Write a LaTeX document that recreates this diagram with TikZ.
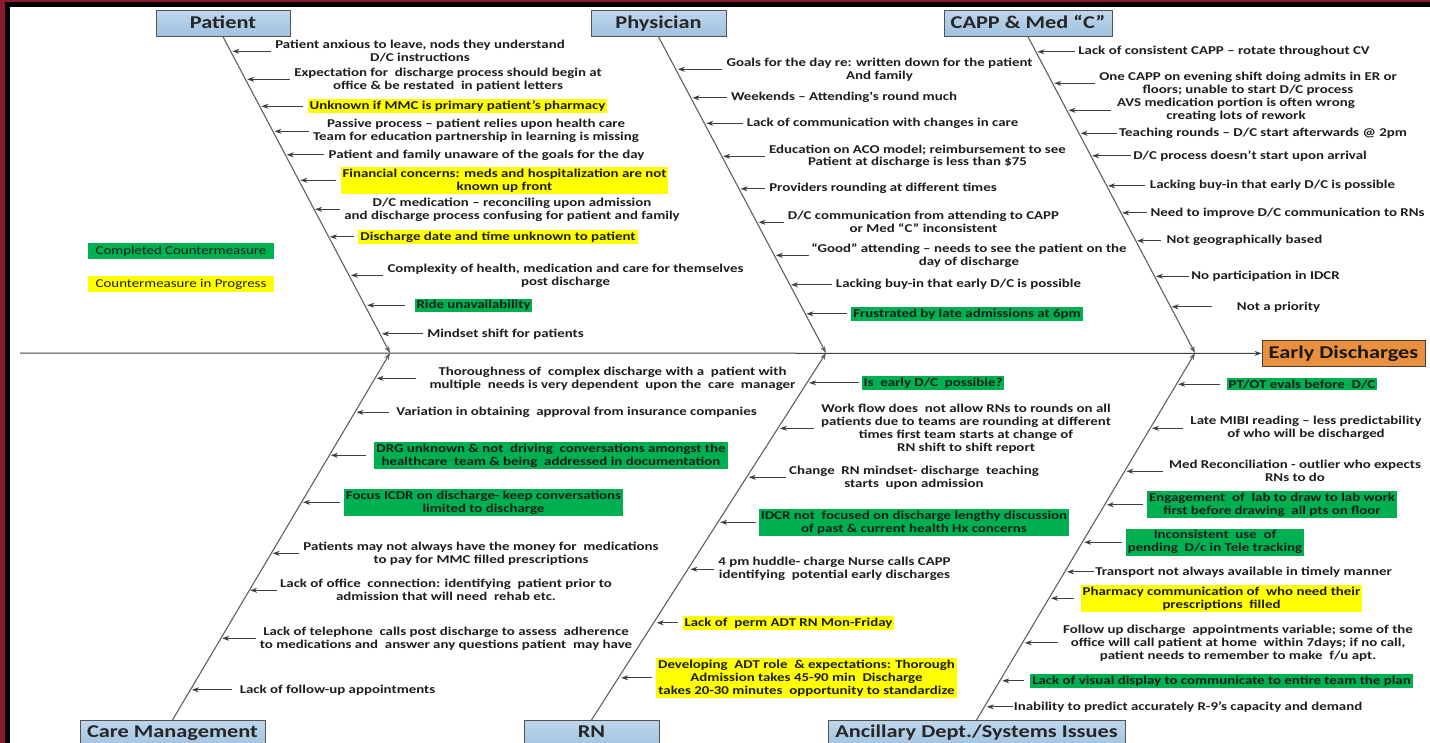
\documentclass[tikz,border=0pt]{standalone}
\usepackage{fontspec}
\newfontfamily\cf[FakeStretch=1.24]{Carlito}
\usetikzlibrary{arrows.meta}
\definecolor{txt}{RGB}{30,30,30}
\definecolor{hlgreen}{RGB}{0,176,80}
\definecolor{hlyellow}{RGB}{255,255,0}
\definecolor{tfa}{RGB}{190,214,236}
\definecolor{tfb}{RGB}{160,193,223}
\definecolor{orangebox}{RGB}{234,143,62}
\definecolor{linec}{RGB}{64,64,64}
\definecolor{bonec}{RGB}{96,96,96}
\definecolor{maroon}{RGB}{140,26,46}
\newcommand\citem[7][4]{%
  \node[#3] (#2) at (#4,#5) {#7};
  \coordinate (#2b) at (#6,#5);
  \draw[ca, shorten <=#1pt] (#2.west) -- (#2.west -| #2b);}
\begin{document}
\begin{tikzpicture}[x=1pt,y=-1pt,
  cz/.style={font=\cf\bfseries\fontsize{12}{13}\selectfont, text=txt, align=center, inner sep=0pt, yshift=-0.8pt},
  gz/.style={cz, fill=hlgreen, inner xsep=2pt, inner ysep=1.6pt},
  yz/.style={cz, fill=hlyellow, inner xsep=2pt, inner ysep=1.6pt},
  lg/.style={font=\cf\fontsize{12}{13}\selectfont, text=txt, minimum width=186pt, minimum height=16pt, inner sep=0pt},
  ca/.style={draw=linec, line width=0.9pt, -{Stealth[length=7pt,width=5pt]}},
  bone/.style={draw=bonec, line width=1.1pt, -{Stealth[length=7pt,width=5pt]}},
  spine/.style={draw=linec, line width=1pt, -{Stealth[length=7pt,width=5pt]}},
  ttl/.style={draw=gray!65!black, line width=0.8pt, top color=tfa, bottom color=tfb,
    font=\cf\bfseries\fontsize{18}{20}\selectfont, text=black!85, inner ysep=0pt, inner xsep=0pt},
  ttop/.style={ttl, text height=18.3pt, text depth=7.7pt, anchor=north},
  tbot/.style={ttl, text height=16.8pt, text depth=12pt, anchor=north}
]
\useasboundingbox (0,0) rectangle (1430,743);
\clip (0,0) rectangle (1430,743);
\fill[white] (0,0) rectangle (1430,743);
% frame
\fill[maroon] (0,0) rectangle (1430,2.5);
\fill[black] (0,2.5) rectangle (1430,7);
\fill[maroon] (0,0) rectangle (5,743);
\fill[black] (5,2.5) rectangle (10,743);

% title boxes
\node[ttop, minimum width=134pt] (tP) at (223,10) {Patient};
\node[ttop, minimum width=135pt] (tPh) at (658.5,10) {Physician};
\node[ttop, minimum width=168pt] (tC) at (1028,10) {CAPP \& Med “C”};
\node[tbot, minimum width=185pt] (tCM) at (172.5,720) {Care Management};
\node[tbot, minimum width=135pt] (tRN) at (591.5,720) {RN};
\node[tbot, minimum width=297pt] (tA) at (976.5,720) {Ancillary Dept./Systems Issues};
\node[draw=black!75, line width=0.8pt, fill=orangebox, font=\cf\bfseries\fontsize{18}{20}\selectfont,
  text=black!90, minimum width=163pt, text height=18pt, text depth=8pt, inner ysep=0pt, inner xsep=0pt,
  anchor=north] (ED) at (1343.5,340) {Early Discharges};

% spine and bones
\coordinate (s0) at (20,353);
\coordinate (jP) at (390,353);
\coordinate (jPh) at (826,353);
\coordinate (jC) at (1195,353);
\draw[spine] (s0) -- (ED.west);
\draw[bone] (tP.south) -- (jP);
\draw[bone] (tPh.south) -- (jPh);
\draw[bone] (tC.south) -- (jC);
\draw[bone] (tCM.north) -- (jP);
\draw[bone] (tRN.north) -- (jPh);
\draw[bone] (tA.north) -- (jC);

% legend
\node[lg, fill=hlgreen] (lg1) at (181,251) {Completed Countermeasure};
\node[lg, fill=hlyellow] (lg2) at (181,284) {Countermeasure in Progress};

% Patient
\citem{p1}{cz}{420}{50.5}{232.4}{Patient anxious to leave, nods they understand\\D/C instructions}
\citem{p2}{cz}{448}{78.5}{247.2}{Expectation for\ \ discharge process should begin at\\office \& be restated\ \ in patient letters}
\citem{p3}{yz}{457.5}{105.5}{261.4}{Unknown if MMC is primary patient’s pharmacy}
\citem{p4}{cz}{476}{130.5}{274.5}{Passive process – patient relies upon health care\\Team for education partnership in learning is missing}
\citem{p5}{cz}{486.5}{154}{286.7}{Patient and family unaware of the goals for the day}
\citem{p6}{yz}{504.5}{179.5}{300.4}{Financial concerns: meds and hospitalization are not\\known up front}
\citem{p7}{cz}{512}{208.5}{315.1}{D/C medication – reconciling upon admission\\and discharge process confusing for patient and family}
\citem{p8}{yz}{498}{236}{329.9}{Discharge date and time unknown to patient}
\citem{p9}{cz}{565.5}{274.5}{350.9}{Complexity of health, medication and care for themselves\\post discharge}
\citem[9]{p10}{gz}{473.5}{304.5}{367.2}{Ride unavailability}
\citem{p11}{cz}{505.5}{333}{382}{Mindset shift for patients}

% Physician
\citem{h1}{cz}{879.5}{68.5}{677.9}{Goals for the day re: written down for the patient\\And family}
\citem{h2}{cz}{844}{97}{692.6}{Weekends – Attending's round much}
\citem{h3}{cz}{882.5}{122.5}{706.3}{Lack of communication with changes in care}
\citem{h4}{cz}{917.5}{155.5}{723.2}{Education on ACO model; reimbursement to see\\Patient at discharge is less than \$75}
\citem{h5}{cz}{883}{188}{740.6}{Providers rounding at different times}
\citem{h6}{cz}{923.5}{221.5}{758.5}{D/C communication from attending to CAPP\\or Med “C” inconsistent}
\citem[2]{h7}{cz}{969}{254.5}{775.9}{“Good” attending – needs to see the patient on the\\day of discharge}
\citem{h8}{cz}{958.5}{284}{791.1}{Lacking buy-in that early D/C is possible}
\citem{h9}{gz}{967}{313}{806.4}{Frustrated by late admissions at 6pm}

% CAPP & Med C
\citem[3]{c1}{cz}{1224}{51}{1037.4}{Lack of consistent CAPP – rotate throughout CV}
\citem{c2}{cz}{1248}{82.5}{1054.3}{One CAPP on evening shift doing admits in ER or\\floors; unable to start D/C process}
\citem[6]{c3}{cz}{1236}{109.5}{1068.5}{AVS medication portion is often wrong\\creating lots of rework}
\citem[2]{c4}{cz}{1263}{132.5}{1080.6}{Teaching rounds – D/C start afterwards @ 2pm}
\citem[2]{c5}{cz}{1250}{155}{1092.2}{D/C process doesn’t start upon arrival}
\citem[5]{c6}{cz}{1272.5}{185}{1108}{Lacking buy-in that early D/C is possible}
\citem[3]{c7}{cz}{1287.5}{212}{1122.2}{Need to improve D/C communication to RNs}
\citem[5]{c8}{cz}{1244.5}{240}{1137}{Not geographically based}
\citem[2]{c9}{cz}{1265.5}{275.5}{1155.9}{No participation in IDCR}
\citem[25]{c10}{cz}{1278.5}{306}{1171.7}{Not a priority}

% Care Management
\citem[13]{m1}{cz}{612.5}{377.5}{376.6}{Thoroughness of\ \ complex discharge with a\ \ patient with\\multiple\ \ needs is very dependent\ \ upon the\ \ care\ \ manager}
\citem[7]{m2}{cz}{576.5}{411.5}{356.5}{Variation in obtaining\ \ approval from insurance companies}
\citem[8]{m3}{gz}{551}{454.5}{330.9}{DRG unknown \& not\ \ driving\ \ conversations amongst the\\healthcare\ \ team \& being\ \ addressed in documentation}
\citem{m4}{gz}{483.5}{501.5}{303}{Focus ICDR on discharge- keep conversations\\limited to discharge}
\citem{m5}{cz}{481}{552.5}{272.7}{Patients may not always have the money for\ \ medications\\to pay for MMC filled prescriptions}
\citem[3]{m6}{cz}{446}{589.5}{250.1}{Lack of office\ \ connection: identifying\ \ patient prior to\\admission that will need\ \ rehab etc.}
\citem{m7}{cz}{446}{637.5}{222.2}{Lack of telephone\ \ calls post discharge to assess\ \ adherence\\to medications and\ \ answer any questions patient\ \ may have}
\citem[8]{m8}{cz}{337.5}{689}{191.9}{Lack of follow-up appointments}

% RN
\citem[2]{r1}{gz}{933}{382}{809.1}{Is\ \ early D/C\ \ possible?}
\citem[7]{r2}{cz}{966}{427.5}{779.9}{Work flow does\ \ not allow RNs to rounds on all\\patients due to teams are rounding at different\\times first team starts at change of\\RN shift to shift report}
\citem[3]{r3}{cz}{914}{476.5}{748.8}{Change\ \ RN mindset- discharge\ \ teaching\\starts\ \ upon admission}
\citem[3]{r4}{gz}{914}{521.5}{720.2}{IDCR not\ \ focused on discharge lengthy discussion\\of past \& current health Hx concerns}
\citem{r5}{cz}{834.5}{568.5}{690.4}{4 pm huddle- charge Nurse calls CAPP\\identifying\ \ potential early discharges}
\citem{r6}{yz}{788.5}{622}{656.7}{Lack of\ \ perm ADT RN Mon-Friday}
\citem{r7}{yz}{806.5}{677}{621.2}{Developing\ \ ADT role\ \ \& expectations: Thorough\\Admission takes 45-90 min\ \ Discharge\\takes 20-30 minutes\ \ opportunity to standardize}

% Ancillary
\citem[7]{a1}{gz}{1302}{383.5}{1178.1}{PT/OT evals before\ \ D/C}
\citem[7]{a2}{cz}{1306}{427.5}{1151.9}{Late MIBI reading – less predictability\\of who will be discharged}
\citem[6]{a3}{cz}{1295}{470.5}{1126.4}{Med Reconciliation - outlier who expects\\RNs to do}
\citem{a4}{gz}{1272}{504}{1106.8}{Engagement\ \ of\ \ lab to draw to lab work\\first before drawing\ \ all pts on floor}
\citem{a5}{gz}{1215}{541.5}{1084.2}{Inconsistent\ \ use\ \ of\\pending\ \ D/c in Tele tracking}
\citem[1]{a6}{cz}{1243.5}{571}{1067}{Transport not always available in timely manner}
\citem[6]{a7}{yz}{1221.5}{597.5}{1051}{Pharmacy communication of\ \ who need their\\prescriptions\ \ filled}
\citem[5]{a8}{cz}{1238}{642}{1024.8}{Follow up discharge\ \ appointments variable; some of the\\office will call patient at home\ \ within 7days; if no call,\\patient needs to remember to make\ \ f/u apt.}
\citem[6]{a9}{gz}{1221.5}{680}{1002.3}{Lack of visual display to communicate to entire team the plan}
\citem[1]{a10}{cz}{1188}{706}{986.8}{Inability to predict accurately R-9’s capacity and demand}
\end{tikzpicture}
\end{document}
